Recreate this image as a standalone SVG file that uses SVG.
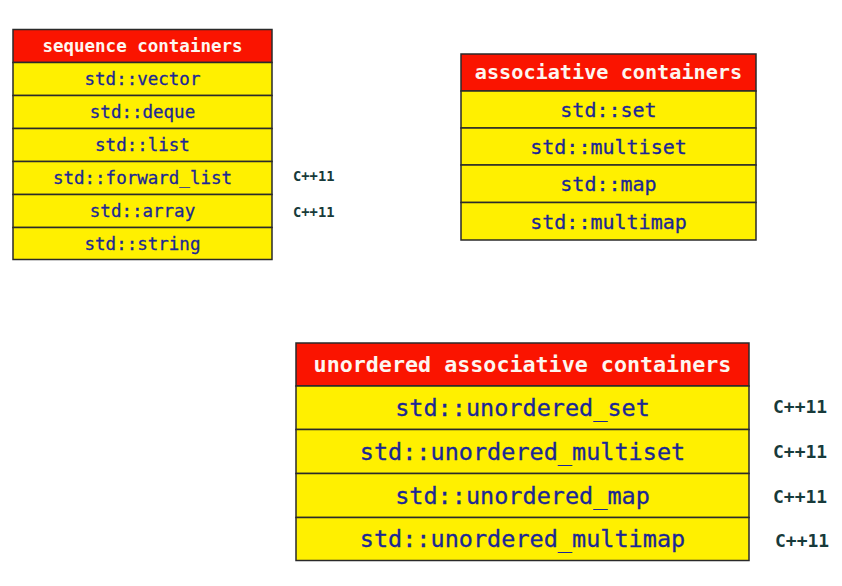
<svg xmlns="http://www.w3.org/2000/svg" width="842" height="586" viewBox="0 0 842 586">
<style>
.hd{fill:#fa1400;stroke:#2a2a2a;stroke-width:1.5}
.rw{fill:#fff000;stroke:#2a2a2a;stroke-width:1.5}
.ht{font-family:"DejaVu Sans Mono","Liberation Mono",monospace;font-weight:bold;fill:#fdf6f0;text-anchor:middle}
.it{font-family:"DejaVu Sans Mono","Liberation Mono",monospace;fill:#1b2796;stroke:#1b2796;stroke-width:0.3;text-anchor:middle}
.cx{font-family:"DejaVu Sans Mono","Liberation Mono",monospace;font-weight:bold;fill:#173a3a}
</style>
<rect width="842" height="586" fill="#ffffff"/>
<g id="sequence">
<rect class="hd" x="13" y="29.5" width="259" height="33"/>
<rect class="rw" x="13" y="62.5" width="259" height="33"/>
<rect class="rw" x="13" y="95.5" width="259" height="33"/>
<rect class="rw" x="13" y="128.5" width="259" height="33"/>
<rect class="rw" x="13" y="161.5" width="259" height="33"/>
<rect class="rw" x="13" y="194.5" width="259" height="33"/>
<rect class="rw" x="13" y="227.5" width="259" height="32"/>
<text class="ht" x="142.5" y="52" font-size="17.5">sequence containers</text>
<text class="it" x="142.5" y="85" font-size="17.5">std::vector</text>
<text class="it" x="142.5" y="118" font-size="17.5">std::deque</text>
<text class="it" x="142.5" y="151" font-size="17.5">std::list</text>
<text class="it" x="142.5" y="184" font-size="17.5">std::forward_list</text>
<text class="it" x="142.5" y="217" font-size="17.5">std::array</text>
<text class="it" x="142.5" y="250" font-size="17.5">std::string</text>
<text class="cx" x="293" y="181" font-size="13.8">C++11</text>
<text class="cx" x="293" y="217" font-size="13.8">C++11</text>
</g>
<g id="associative">
<rect class="hd" x="461" y="54" width="295" height="37"/>
<rect class="rw" x="461" y="91" width="295" height="37"/>
<rect class="rw" x="461" y="128" width="295" height="37"/>
<rect class="rw" x="461" y="165" width="295" height="37.5"/>
<rect class="rw" x="461" y="202.5" width="295" height="37.5"/>
<text class="ht" x="608.5" y="79" font-size="20.2">associative containers</text>
<text class="it" x="608.5" y="117" font-size="20">std::set</text>
<text class="it" x="608.5" y="154" font-size="20">std::multiset</text>
<text class="it" x="608.5" y="191" font-size="20">std::map</text>
<text class="it" x="608.5" y="228.5" font-size="20">std::multimap</text>
</g>
<g id="unordered">
<rect class="hd" x="296" y="343" width="453" height="43"/>
<rect class="rw" x="296" y="386" width="453" height="43.5"/>
<rect class="rw" x="296" y="429.5" width="453" height="44"/>
<rect class="rw" x="296" y="473.5" width="453" height="44"/>
<rect class="rw" x="296" y="517.5" width="453" height="43"/>
<text class="ht" x="522.5" y="371.5" font-size="21.7">unordered associative containers</text>
<text class="it" x="522.5" y="415.5" font-size="23.5">std::unordered_set</text>
<text class="it" x="522.5" y="459.5" font-size="23.5">std::unordered_multiset</text>
<text class="it" x="522.5" y="503.5" font-size="23.5">std::unordered_map</text>
<text class="it" x="522.5" y="547" font-size="23.5">std::unordered_multimap</text>
<text class="cx" x="773" y="412.5" font-size="18">C++11</text>
<text class="cx" x="773" y="458" font-size="18">C++11</text>
<text class="cx" x="773" y="503" font-size="18">C++11</text>
<text class="cx" x="775" y="546.5" font-size="18">C++11</text>
</g>
<g id="connectors"></g>
</svg>
